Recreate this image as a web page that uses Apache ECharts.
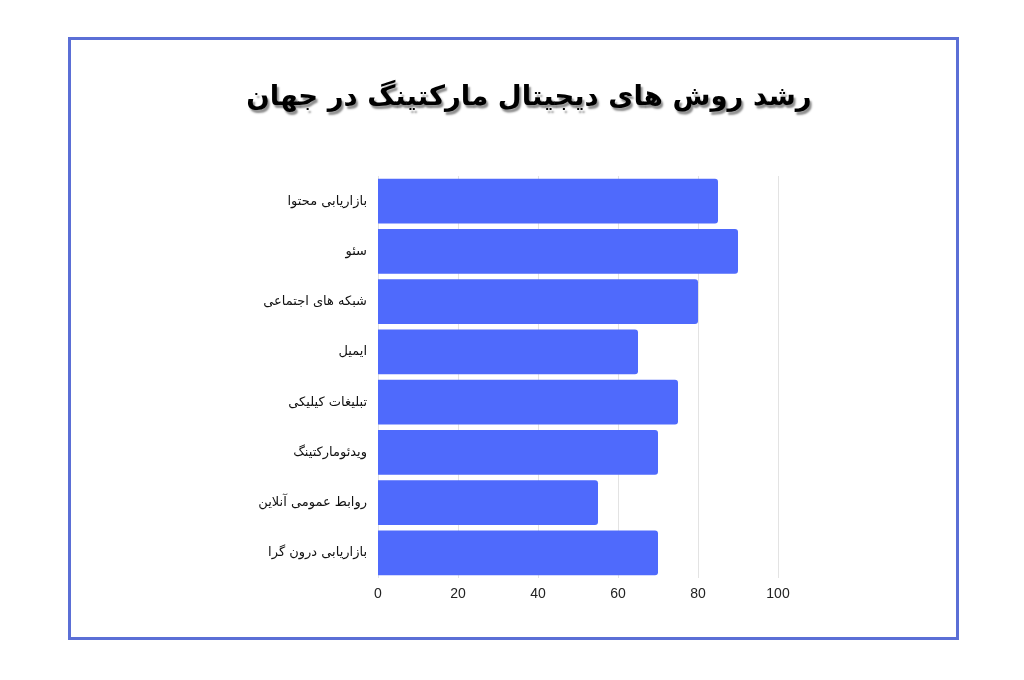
<!DOCTYPE html>
<html>
<head>
<meta charset="utf-8">
<script src="https://cdn.jsdelivr.net/npm/echarts@6/dist/echarts.min.js"></script>
<style>
  html, body { margin: 0; padding: 0; background: #fff; }
  #chart { width: 1024px; height: 680px; }
</style>
</head>
<body>
<div id="chart"></div>
<script>
// داده‌ها
const categories = [
  "بازاریابی محتوا",
  "سئو",
  "شبکه های اجتماعی",
  "ایمیل",
  "تبلیغات کیلیکی",
  "ویدئومارکتینگ",
  "روابط عمومی آنلاین",
  "بازاریابی درون گرا",
];
const growthValues = [85, 90, 80, 65, 75, 70, 55, 70];
const xTicks = [0, 20, 40, 60, 80, 100];

const chart = echarts.init(document.getElementById("chart"));

const option = {
  backgroundColor: "#ffffff",
  title: {
    text: "رشد روش های دیجیتال مارکتینگ در جهان",
    left: 524,
    textAlign: "center",
    top: 79,
    textStyle: {
      fontFamily: "DejaVu Sans",
      fontSize: 27.5,
      fontWeight: "bold",
      color: "#000000",
      textShadowColor: "rgba(0,0,0,0.45)",
      textShadowBlur: 2,
      textShadowOffsetX: 2,
      textShadowOffsetY: 3,
    },
  },
  // قاب دور نمودار
  graphic: [
    {
      type: "rect",
      shape: { x: 69.5, y: 38.5, width: 888, height: 600 },
      style: { fill: "none", stroke: "#5b6fd6", lineWidth: 3 },
      silent: true,
    },
  ],
  grid: {
    left: 378,
    right: 246,
    top: 176,
    bottom: 102,
    containLabel: false,
  },
  xAxis: {
    type: "value",
    min: xTicks[0],
    max: xTicks[xTicks.length - 1],
    interval: 20,
    axisLine: { show: false },
    axisTick: { show: false },
    axisLabel: {
      color: "#222222",
      fontFamily: "Liberation Sans",
      fontSize: 14,
      margin: 9,
    },
    splitLine: {
      lineStyle: { color: "#e3e3e3", width: 1 },
    },
  },
  yAxis: {
    type: "category",
    data: categories,
    inverse: true,
    axisLine: { show: false },
    axisTick: { show: false },
    axisLabel: {
      color: "#111111",
      fontFamily: "DejaVu Sans",
      fontSize: 13,
      margin: 11,
    },
  },
  series: [
    {
      name: "رشد",
      type: "bar",
      data: growthValues,
      barCategoryGap: "11%",
      itemStyle: {
        color: "#4f6afc",
        borderRadius: [0, 3, 3, 0],
      },
    },
  ],
};

chart.setOption(option);
</script>
</body>
</html>
